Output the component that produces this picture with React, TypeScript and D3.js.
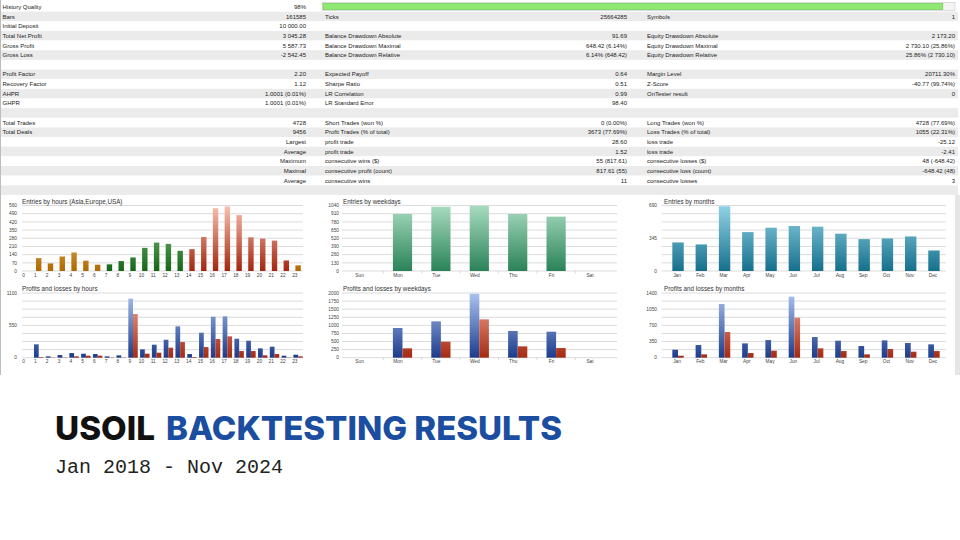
import React, { useRef, useEffect } from 'react';
import * as d3 from 'd3';

// ---- statistics table (label, value) per column ----
const statsLeft = [
  ['History Quality', '98%'], ['Bars', '161585'], ['Initial Deposit', '10 000.00'],
  ['Total Net Profit', '3 045.28'], ['Gross Profit', '5 587.73'], ['Gross Loss', '-2 542.45'],
  ['', ''], ['Profit Factor', '2.20'], ['Recovery Factor', '1.12'], ['AHPR', '1.0001 (0.01%)'],
  ['GHPR', '1.0001 (0.01%)'], ['', ''], ['Total Trades', '4728'], ['Total Deals', '9456'],
  ['', 'Largest'], ['', 'Average'], ['', 'Maximum'], ['', 'Maximal'], ['', 'Average'], ['', '']
];
const statsMiddle = [
  ['', ''], ['Ticks', '25664285'], ['', ''], ['Balance Drawdown Absolute', '91.69'],
  ['Balance Drawdown Maximal', '648.42 (6.14%)'], ['Balance Drawdown Relative', '6.14% (648.42)'],
  ['', ''], ['Expected Payoff', '0.64'], ['Sharpe Ratio', '0.51'], ['LR Correlation', '0.99'],
  ['LR Standard Error', '98.40'], ['', ''], ['Short Trades (won %)', '0 (0.00%)'],
  ['Profit Trades (% of total)', '3673 (77.69%)'], ['profit trade', '28.60'], ['profit trade', '1.52'],
  ['consecutive wins ($)', '55 (817.61)'], ['consecutive profit (count)', '817.61 (55)'],
  ['consecutive wins', '11'], ['', '']
];
const statsRight = [
  ['', ''], ['Symbols', '1'], ['', ''], ['Equity Drawdown Absolute', '2 173.20'],
  ['Equity Drawdown Maximal', '2 730.10 (25.86%)'], ['Equity Drawdown Relative', '25.86% (2 730.10)'],
  ['', ''], ['Margin Level', '20711.30%'], ['Z-Score', '-40.77 (99.74%)'], ['OnTester result', '0'],
  ['', ''], ['', ''], ['Long Trades (won %)', '4728 (77.69%)'], ['Loss Trades (% of total)', '1055 (22.31%)'],
  ['loss trade', '-25.12'], ['loss trade', '-2.41'], ['consecutive losses ($)', '48 (-648.42)'],
  ['consecutive loss (count)', '-648.42 (48)'], ['consecutive losses', '3'], ['', '']
];
const historyQuality = 98;

// ---- chart data ----
const hourLabels = ['0', '1', '2', '3', '4', '5', '6', '7', '8', '9', '10', '11', '12', '13', '14', '15', '16', '17', '18', '19', '20', '21', '22', '23'];
const hourSession = ['asia', 'asia', 'asia', 'asia', 'asia', 'asia', 'asia', 'europe', 'europe', 'europe', 'europe', 'europe', 'europe', 'europe',
  'usa', 'usa', 'usa', 'usa', 'usa', 'usa', 'usa', 'usa', 'usa', 'asia'];
const hourEntries = [0, 110, 65, 124, 158, 88, 54, 57, 85, 116, 198, 243, 232, 173, 187, 291, 537, 552, 478, 288, 277, 260, 90, 48];
const hourProfits = [0, 227, 23, 45, 79, 68, 62, 23, 40, 1004, 142, 221, 306, 533, 62, 425, 697, 703, 323, 289, 159, 187, 34, 51];
const hourLosses = [0, 11, 5, 5, 23, 34, 34, 5, 5, 743, 68, 85, 170, 266, 11, 181, 318, 363, 113, 113, 40, 62, 5, 23];

const weekdays = ['Sun', 'Mon', 'Tue', 'Wed', 'Thu', 'Fri', 'Sat'];
const weekdayEntries = [0, 905, 1020, 1035, 905, 863, 0];
const weekdayProfits = [0, 918, 1124, 1979, 825, 804, 0];
const weekdayLosses = [0, 289, 495, 1186, 351, 299, 0];

const months = ['Jan', 'Feb', 'Mar', 'Apr', 'May', 'Jun', 'Jul', 'Aug', 'Sep', 'Oct', 'Nov', 'Dec'];
const monthEntries = [301, 280, 683, 410, 456, 474, 467, 393, 336, 343, 364, 216];
const monthProfits = [173, 274, 1162, 310, 382, 1321, 447, 368, 253, 375, 318, 289];
const monthLosses = [43, 72, 556, 101, 152, 866, 202, 144, 72, 188, 130, 144];

const gradColors = {
  asia: ['#fcd98e', '#b06a00'],
  europe: ['#8fd08f', '#176617'],
  usa: ['#f9c2b2', '#a3260f'],
  mint: ['#a8dcc0', '#2a8258'],
  teal: ['#92d3e6', '#15708c'],
  blue: ['#abc3ee', '#1c3c8c'],
  red: ['#f6ad9c', '#a52a12']
};

const FONT = '"Liberation Sans", Arial, sans-serif';

const App = () => {
  const ref = useRef(null);

  useEffect(() => {
    const svg = d3.select(ref.current);
    svg.selectAll('*').remove();
    const defs = svg.append('defs');

    // white page
    svg.append('rect').attr('width', 960).attr('height', 540).attr('fill', '#fff');

    // ---- table ----
    const rowH = 9.65;
    const rowTop = 2;
    const table = svg.append('g');
    table.selectAll('rect.row').data(d3.range(20)).join('rect')
      .attr('x', 1).attr('y', i => rowTop + i * rowH)
      .attr('width', 957).attr('height', rowH)
      .attr('fill', i => (i % 2 === 1 ? '#ebebeb' : '#fff'));

    // history quality bar
    const qx = d3.scaleLinear().domain([0, 100]).range([322.5, 955]);
    table.append('rect').attr('x', qx(0)).attr('y', 2.5).attr('width', qx(100) - qx(0)).attr('height', 8)
      .attr('fill', '#f4f4f4').attr('stroke', '#c8c8c8').attr('stroke-width', 0.6);
    table.append('rect').attr('x', qx(0) + 0.5).attr('y', 3.3).attr('width', qx(historyQuality) - qx(0)).attr('height', 6.4)
      .attr('fill', '#8fe872').attr('stroke', '#5fc443').attr('stroke-width', 0.5);

    const cols = [
      { rows: statsLeft, lx: 2.5, vx: 306 },
      { rows: statsMiddle, lx: 325, vx: 627 },
      { rows: statsRight, lx: 647, vx: 955 }
    ];
    cols.forEach(col => {
      col.rows.forEach((r, i) => {
        const by = rowTop + i * rowH + 6.9;
        if (r[0]) {
          table.append('text').attr('x', col.lx).attr('y', by)
            .attr('font-family', FONT).attr('font-size', 6).attr('fill', '#222').text(r[0]);
        }
        if (r[1]) {
          table.append('text').attr('x', col.vx).attr('y', by).attr('text-anchor', 'end')
            .attr('font-family', FONT).attr('font-size', 6).attr('fill', '#222').text(r[1]);
        }
      });
    });

    // left border and right strip of the screenshot
    svg.append('line').attr('x1', 0.5).attr('x2', 0.5).attr('y1', 0).attr('y2', 375)
      .attr('stroke', '#bdbdbd').attr('stroke-width', 1);
    svg.append('rect').attr('x', 955).attr('y', 195).attr('width', 5).attr('height', 180).attr('fill', '#e6e6e6');

    // ---- bar charts ----
    const makeGrad = (id, key, y1, y2) => {
      const g = defs.append('linearGradient').attr('id', id)
        .attr('gradientUnits', 'userSpaceOnUse')
        .attr('x1', 0).attr('x2', 0).attr('y1', y1).attr('y2', y2);
      g.append('stop').attr('offset', '0%').attr('stop-color', gradColors[key][0]);
      g.append('stop').attr('offset', '100%').attr('stop-color', gradColors[key][1]);
      return 'url(#' + id + ')';
    };

    const drawChart = cfg => {
      const g = svg.append('g');
      const x = d3.scaleBand().domain(cfg.cats).range(cfg.band);
      const y = d3.scaleLinear().domain([0, cfg.max]).range([cfg.y0, cfg.y1]);

      g.selectAll('line.grid').data(d3.range(0, cfg.max + 0.01, cfg.gridStep)).join('line')
        .attr('x1', cfg.grid[0]).attr('x2', cfg.grid[1])
        .attr('y1', d => y(d)).attr('y2', d => y(d))
        .attr('stroke', '#d2d2d2').attr('stroke-width', 0.8);

      g.selectAll('text.ylab').data(d3.range(0, cfg.max + 0.01, cfg.labelStep)).join('text')
        .attr('x', cfg.labelRight).attr('y', d => y(d) + 1.7).attr('text-anchor', 'end')
        .attr('font-family', FONT).attr('font-size', 4.8).attr('fill', '#444')
        .text(d => d3.format('d')(d));

      g.selectAll('text.xlab').data(cfg.cats).join('text')
        .attr('x', d => x(d) + x.bandwidth() / 2 + cfg.labelDx).attr('y', cfg.y0 + 5.5)
        .attr('text-anchor', 'middle')
        .attr('font-family', FONT).attr('font-size', 4.8).attr('fill', '#444')
        .text(d => d);

      if (cfg.separators) {
        g.selectAll('line.sep').data(cfg.cats.slice(1)).join('line')
          .attr('x1', d => x(d)).attr('x2', d => x(d))
          .attr('y1', cfg.y0).attr('y2', cfg.y0 + 2.5)
          .attr('stroke', '#c4c4c4').attr('stroke-width', 0.6);
      }

      const n = cfg.series.length;
      const groupW = x.bandwidth() * cfg.barFrac;
      const bw = groupW / n;
      cfg.series.forEach((s, si) => {
        g.selectAll('rect.s' + si).data(s.values).join('rect')
          .attr('x', (d, i) => x(cfg.cats[i]) + (x.bandwidth() - groupW) / 2 + si * bw)
          .attr('y', d => y(d))
          .attr('width', bw)
          .attr('height', d => cfg.y0 - y(d))
          .attr('fill', (d, i) => s.fill(i));
      });

      g.append('text').attr('x', cfg.titleX).attr('y', cfg.titleY)
        .attr('font-family', FONT).attr('font-size', 6.3).attr('fill', '#333')
        .text(cfg.title);
    };

    const topY0 = 271;
    const topY1 = 205.5;
    const botY0 = 357.7;
    const botY1 = 293;

    const hourFill = {
      asia: makeGrad('g-asia', 'asia', topY1, topY0),
      europe: makeGrad('g-europe', 'europe', topY1, topY0),
      usa: makeGrad('g-usa', 'usa', topY1, topY0)
    };
    const mintFill = makeGrad('g-mint', 'mint', topY1, topY0);
    const tealFill = makeGrad('g-teal', 'teal', topY1, topY0);
    const blueFill = makeGrad('g-blue', 'blue', botY1, botY0);
    const redFill = makeGrad('g-red', 'red', botY1, botY0);

    const hourBase = { cats: hourLabels, band: [21, 304], grid: [22, 303], labelRight: 17, labelDx: -3.3, titleX: 22 };
    const weekBase = { cats: weekdays, band: [344.9, 613.7], grid: [342, 617], labelRight: 339, labelDx: -4.5, titleX: 343, separators: true };
    const monthBase = { cats: months, band: [666.4, 945.6], grid: [661.7, 946], labelRight: 657, labelDx: -1, titleX: 664 };

    drawChart({
      ...hourBase, title: 'Entries by hours (Asia,Europe,USA)', titleY: 203.5,
      y0: topY0, y1: topY1, max: 560, gridStep: 70, labelStep: 70, barFrac: 0.46,
      series: [{ values: hourEntries, fill: i => hourFill[hourSession[i]] }]
    });
    drawChart({
      ...weekBase, title: 'Entries by weekdays', titleY: 203.5,
      y0: topY0, y1: topY1, max: 1040, gridStep: 130, labelStep: 130, barFrac: 0.5,
      series: [{ values: weekdayEntries, fill: () => mintFill }]
    });
    drawChart({
      ...monthBase, title: 'Entries by months', titleY: 203.5,
      y0: topY0, y1: topY1, max: 690, gridStep: 86.25, labelStep: 345, barFrac: 0.49,
      series: [{ values: monthEntries, fill: () => tealFill }]
    });

    drawChart({
      ...hourBase, title: 'Profits and losses by hours', titleY: 290.5,
      y0: botY0, y1: botY1, max: 1100, gridStep: 137.5, labelStep: 550, barFrac: 0.8,
      series: [{ values: hourProfits, fill: () => blueFill }, { values: hourLosses, fill: () => redFill }]
    });
    drawChart({
      ...weekBase, title: 'Profits and losses by weekdays', titleY: 290.5,
      y0: botY0, y1: botY1, max: 2000, gridStep: 250, labelStep: 250, barFrac: 0.5,
      series: [{ values: weekdayProfits, fill: () => blueFill }, { values: weekdayLosses, fill: () => redFill }]
    });
    drawChart({
      ...monthBase, title: 'Profits and losses by months', titleY: 290.5,
      y0: botY0, y1: botY1, max: 1400, gridStep: 175, labelStep: 350, barFrac: 0.49,
      series: [{ values: monthProfits, fill: () => blueFill }, { values: monthLosses, fill: () => redFill }]
    });

    // ---- heading ----
    svg.append('text').attr('x', 55).attr('y', 440)
      .attr('font-family', 'Inter, "Open Sans", sans-serif').attr('font-weight', 800).attr('font-size', 33)
      .attr('fill', '#111').attr('textLength', 100).attr('lengthAdjust', 'spacingAndGlyphs')
      .text('USOIL');
    svg.append('text').attr('x', 166).attr('y', 440)
      .attr('font-family', 'Inter, "Open Sans", sans-serif').attr('font-weight', 800).attr('font-size', 33)
      .attr('fill', '#1b4ea0').attr('textLength', 396).attr('lengthAdjust', 'spacingAndGlyphs')
      .text('BACKTESTING RESULTS');
    svg.append('text').attr('x', 55).attr('y', 473)
      .attr('font-family', '"Liberation Mono", monospace').attr('font-size', 20)
      .attr('fill', '#222')
      .text('Jan 2018 - Nov 2024');
  }, []);

  return (
    <svg ref={ref} width={960} height={540}
      style={{ position: 'absolute', left: 0, top: 0, display: 'block' }} />
  );
};

export default App;
